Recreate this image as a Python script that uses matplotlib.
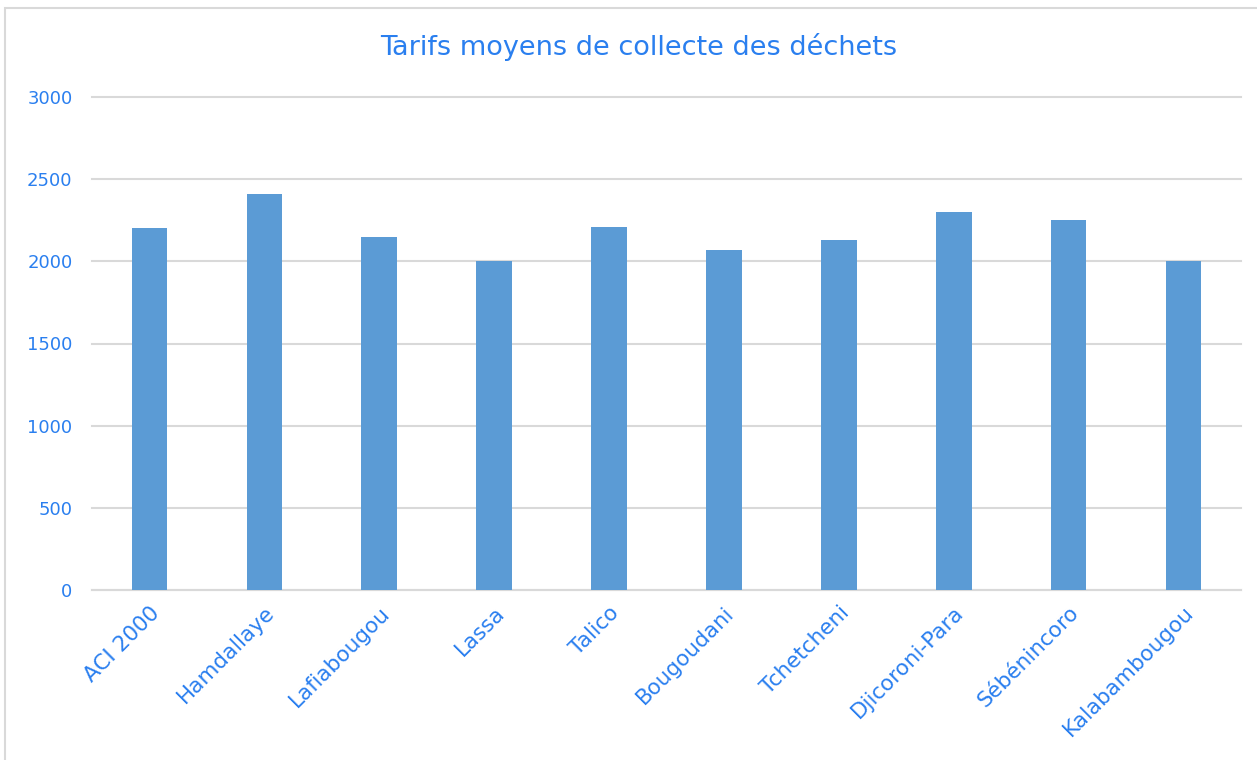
import matplotlib.pyplot as plt
import numpy as np
from matplotlib.patches import Rectangle

# Average waste collection tariffs per neighbourhood
quartiers = ['ACI 2000', 'Hamdallaye', 'Lafiabougou', 'Lassa', 'Talico',
             'Bougoudani', 'Tchetcheni', 'Djicoroni-Para', 'Sébénincoro', 'Kalabambougou']
tarifs = [2200, 2410, 2150, 2000, 2210, 2070, 2130, 2300, 2250, 2000]
yticks = [0, 500, 1000, 1500, 2000, 2500, 3000]

text_blue = '#2a7fef'
bar_blue = '#5b9bd5'
grid_gray = '#d9d9d9'

plt.rcParams['font.family'] = ['DejaVu Sans']

fig = plt.figure(figsize=(12.57, 7.6), dpi=100)
ax = fig.add_axes([92 / 1257, 1 - 590 / 760, (1241 - 92) / 1257, (590 - 97) / 760])

# chart area border
fig.patches.append(Rectangle((5 / 1257, -0.01), 1.02, 1 - 8 / 760 + 0.01,
                             transform=fig.transFigure, fill=False,
                             edgecolor='#d9d9d9', linewidth=1.5))

x = np.arange(len(quartiers))
ax.bar(x, tarifs, width=0.31, color=bar_blue, zorder=3)

ax.set_xlim(-0.5, len(quartiers) - 0.5)
ax.set_ylim(0, 3000)
ax.set_yticks(yticks)
ax.set_yticklabels([str(v) for v in yticks], color=text_blue, fontsize=13)
ax.set_xticks(x)
ax.set_xticklabels(quartiers, rotation=45, ha='right', rotation_mode='anchor',
                   color=text_blue, fontsize=15.5)
ax.tick_params(axis='both', length=0)
ax.tick_params(axis='x', pad=9)
ax.tick_params(axis='y', pad=14)

ax.grid(axis='y', color=grid_gray, linewidth=1.5, zorder=0)
for gl in ax.get_ygridlines():
    gl.set_clip_on(False)
for s in ['top', 'right', 'left']:
    ax.spines[s].set_visible(False)
ax.spines['bottom'].set_color(grid_gray)
ax.spines['bottom'].set_linewidth(1.5)

fig.text(639 / 1257, 1 - 47 / 760, 'Tarifs moyens de collecte des déchets',
         ha='center', va='center', color=text_blue, fontsize=19.5)

plt.savefig('out.png', dpi=100)
